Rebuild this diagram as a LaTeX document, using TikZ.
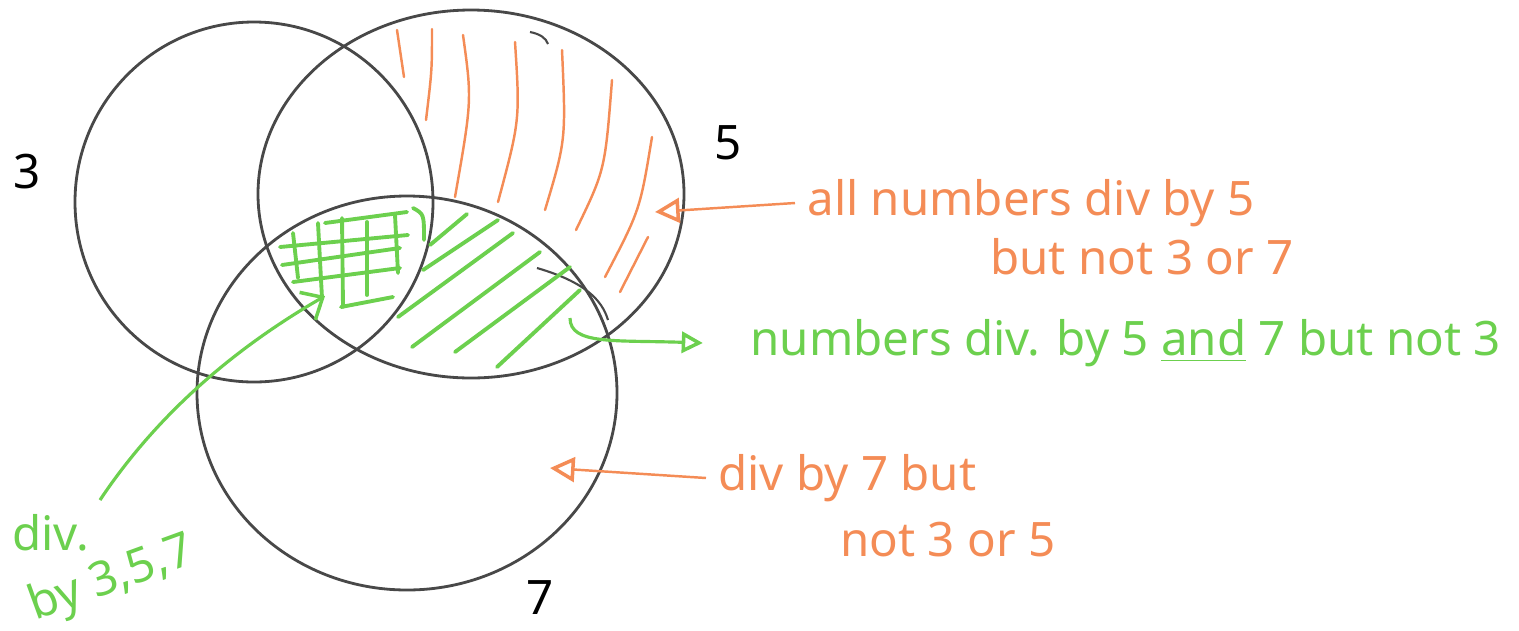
\documentclass[tikz,border=0pt]{standalone}
\usepackage{xcolor}
\usepackage{tikz}
\usepackage{fontspec}
\setmainfont{Noto Sans}
\usetikzlibrary{arrows.meta,positioning}

\definecolor{penorange}{RGB}{244,140,86}
\definecolor{pengreen}{RGB}{108,208,78}
\definecolor{pengray}{RGB}{72,72,72}

\begin{document}
\begin{tikzpicture}[x=0.01cm, y=-0.01cm,
  every node/.style={font=\fontsize{13.5}{16}\selectfont},
  ring/.style={draw=pengray, line width=0.8pt},
  ohatch/.style={penorange, line width=0.7pt, line cap=round},
  ghatch/.style={pengreen, line width=1.1pt, line cap=round},
  onote/.style={text=penorange, anchor=west},
  gnote/.style={text=pengreen, anchor=west},
  oarrow/.style={penorange, line width=0.7pt, -{Triangle[open,length=7pt,width=7pt,line width=1pt]}},
  garrow/.style={pengreen, line width=0.9pt, -{Triangle[open,length=6pt,width=6pt,line width=1pt]}},
  gbarb/.style={pengreen, line width=0.9pt, -{Straight Barb[length=5pt,width=9pt,line width=1pt]}}]
  \useasboundingbox (0,0) rectangle (1519,630);

  % the three sets
  \coordinate (c3) at (254,202);
  \coordinate (c5) at (471,194);
  \coordinate (c7) at (407,393);
  \draw[ring] (c3) ellipse [x radius=179, y radius=180];
  \draw[ring] (c5) ellipse [x radius=213, y radius=184];
  \draw[ring] (c7) ellipse [x radius=210, y radius=197];
  % stray pencil strokes
  \draw[ring, line width=0.6pt] (537,268) .. controls (585,282) and (602,300) .. (608,320);
  \draw[ring, line width=0.6pt] (530,32) .. controls (540,34) and (546,38) .. (548,44);

  \node (n3) at (27,172) {3};
  \node (n5) at (728,143) {5};
  \node (n7) at (540,598) {7};

  % only 5: orange strokes
  \draw[ohatch] (397,30) -- (404,77);
  \draw[ohatch] (432,29) .. controls (432,70) .. (426,120);
  \draw[ohatch] (463,35) .. controls (472,100) .. (455,197);
  \draw[ohatch] (515,42) .. controls (520,120) .. (498,202);
  \draw[ohatch] (562,50) .. controls (566,140) .. (545,210);
  \draw[ohatch] (612,80) .. controls (605,170) .. (576,230);
  \draw[ohatch] (652,137) .. controls (640,210) .. (605,277);
  \draw[ohatch] (648,237) -- (620,292);

  % 5 and 7, not 3: green strokes
  \draw[ghatch] (430,245) -- (467,214);
  \draw[ghatch] (423,270) -- (498,220);
  \draw[ghatch] (398,317) -- (513,233);
  \draw[ghatch] (412,347) -- (540,252);
  \draw[ghatch] (455,352) -- (570,267);
  \draw[ghatch] (497,367) -- (580,290);

  % 3, 5 and 7: green grid
  \draw[ghatch] (325,223) -- (407,212);
  \draw[ghatch] (280,247) -- (408,235);
  \draw[ghatch] (282,265) -- (400,248);
  \draw[ghatch] (293,282) -- (400,268);
  \draw[ghatch] (341,307) -- (393,297);
  \draw[ghatch] (293,233) -- (298,278);
  \draw[ghatch] (318,223) -- (322,298);
  \draw[ghatch] (342,218) -- (343,307);
  \draw[ghatch] (367,222) -- (367,295);
  \draw[ghatch] (395,215) -- (398,273);
  \draw[ghatch] (413,208) .. controls (424,214) .. (424,240);

  % notes
  \node[onote] (only5a) at (795,203) {all numbers div by 5};
  \node[onote] (only5b) at (978,257) {but not 3 or 7};
  \node[gnote] (both57) at (738,343) {numbers div. by 5 \underline{and} 7 but not 3};
  \node[onote] (only7a) at (706,478) {div by 7 but};
  \node[onote] (only7b) at (828,540) {not 3 or 5};
  \node[gnote] (all3a) at (0,533) {div.};
  \node[text=pengreen, rotate=20, inner sep=1pt] (all3b) at (112,580) {by 3,5,7};

  \coordinate (in5) at (655,212);
  \coordinate (in7) at (550,468);
  \coordinate (in57) at (570,318);
  \coordinate (in357) at (325,296);
  \coordinate (tail357) at (100,500);

  \draw[oarrow] (only5a.west) -- (in5);
  \draw[oarrow] (only7a.west) -- (in7);
  \draw[garrow] (in57) .. controls (570,345) and (615,340) .. ([xshift=-10pt]both57.west);
  \draw[gbarb] (tail357) .. controls (160,410) and (240,345) .. (in357);
\end{tikzpicture}
\end{document}
